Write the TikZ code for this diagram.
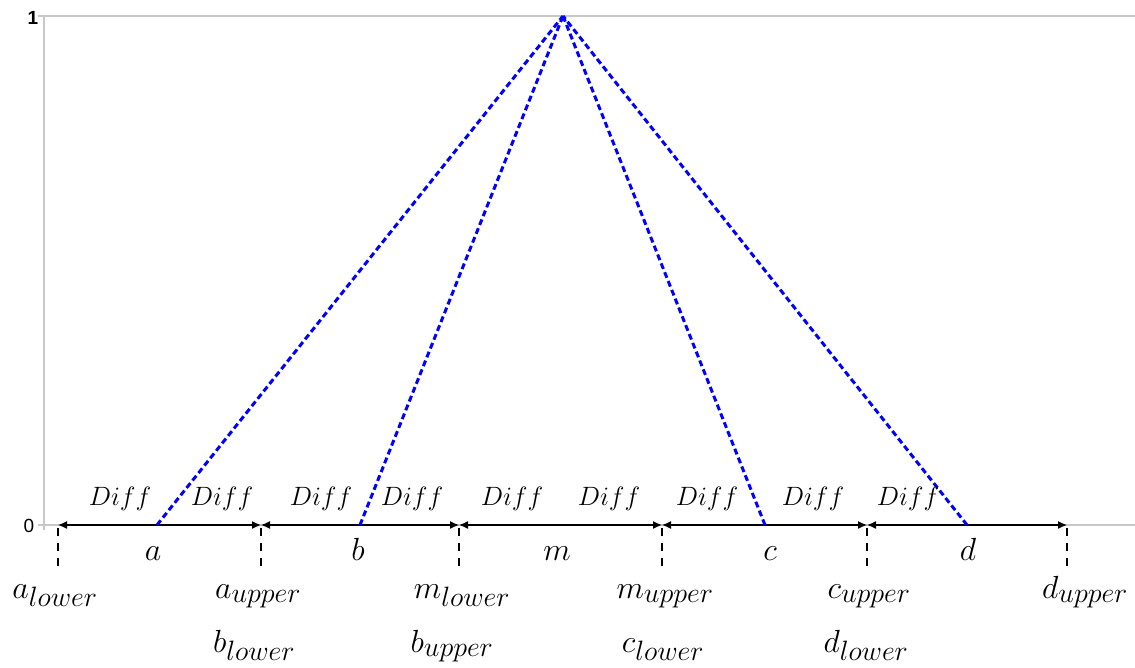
\RequirePackage{fix-cm}
\documentclass[tikz,border=0pt]{standalone}
\usepackage{fontspec}
\newfontfamily\axisfont{Liberation Sans}
\usetikzlibrary{arrows.meta}
\DeclareMathSizes{32}{32}{28}{20}
\definecolor{axisgray}{RGB}{200,200,200}
\begin{document}
\begin{tikzpicture}[x=1pt,y=-1pt,
  axisline/.style={draw=axisgray,line width=1.8pt},
  bar/.style={draw=black,line width=1.3pt,-{Latex[length=9pt,width=8pt]}},
  tri/.style={draw=blue,line width=3pt,dash pattern=on 6pt off 3.5pt},
  bound/.style={draw=black,line width=1.6pt,dash pattern=on 8pt off 7pt},
  difflbl/.style={anchor=base,inner sep=0pt,font=\fontsize{26.5}{30}\selectfont},
  ptlbl/.style={anchor=base,inner sep=0pt,font=\fontsize{32}{38}\selectfont},
  ticklbl/.style={inner sep=0pt,font=\axisfont\fontsize{19}{21}\selectfont}]
\useasboundingbox (0,0) rectangle (1135,668);
% axes
\coordinate (yt) at (38,16);
\coordinate (yte) at (1135,16);
\coordinate (yb) at (38,525);
\coordinate (ybe) at (1135,525);
\coordinate (vtop) at (44,16);
\coordinate (vbot) at (44,530);
\draw[axisline] (yt) -- (yte);
\draw[axisline] (yb) -- (ybe);
\draw[axisline] (vtop) -- (vbot);
\node[ticklbl,font=\axisfont\bfseries\fontsize{19}{21}\selectfont] (one) at (33,18) {1};
\node[ticklbl] (zero) at (29,526) {0};
% points
\coordinate (apex) at (563,16);
\coordinate (al) at (58,525);
\coordinate (a) at (157,525);
\coordinate (au) at (261,525);
\coordinate (b) at (360,525);
\coordinate (ml) at (459,525);
\coordinate (m) at (560,525);
\coordinate (mu) at (662,525);
\coordinate (c) at (765,525);
\coordinate (cu) at (867,525);
\coordinate (d) at (967,525);
\coordinate (du) at (1067,525);
% arrows
\draw[bar] (a) -- (al);
\draw[bar] (a) -- (au);
\draw[bar] (b) -- (au);
\draw[bar] (b) -- (ml);
\draw[bar] (m) -- (ml);
\draw[bar] (m) -- (mu);
\draw[bar] (c) -- (mu);
\draw[bar] (c) -- (cu);
\draw[bar] (d) -- (cu);
\draw[bar] (d) -- (du);
% dashed bounds
\foreach \p/\x in {al/58,au/261,ml/459,mu/662,cu/867,du/1067}{
  \coordinate (\p-end) at (\x,571);
  \draw[bound] (\p) ++(0,3) -- (\p-end);
}
% triangle
\draw[tri] (a) -- (apex);
\draw[tri] (b) -- (apex);
\draw[tri] (c) -- (apex);
\draw[tri] (d) -- (apex);
% Diff labels
\foreach \x [count=\i] in {120,222,321,412,512,609,707,813,908}{
  \node[difflbl] (diff\i) at (\x,505) {$Diff$};
}
% point labels
\node[ptlbl] (la) at (153,560) {$a$};
\node[ptlbl] (lb) at (358,560) {$b$};
\node[ptlbl] (lm) at (557,560) {$m$};
\node[ptlbl] (lc) at (770,560) {$c$};
\node[ptlbl] (ld) at (968,560) {$d$};
% bound labels
\node[ptlbl] (lal) at (55,598) {$a_{lower}$};
\node[ptlbl] (lau) at (258,598) {$a_{upper}$};
\node[ptlbl] (lbl) at (254,652) {$b_{lower}$};
\node[ptlbl] (lml) at (462,598) {$m_{lower}$};
\node[ptlbl] (lbu) at (452,652) {$b_{upper}$};
\node[ptlbl] (lmu) at (665,598) {$m_{upper}$};
\node[ptlbl] (lcl) at (663,652) {$c_{lower}$};
\node[ptlbl] (lcu) at (869,598) {$c_{upper}$};
\node[ptlbl] (ldl) at (866,652) {$d_{lower}$};
\node[ptlbl] (ldu) at (1085,598) {$d_{upper}$};
\end{tikzpicture}
\end{document}
